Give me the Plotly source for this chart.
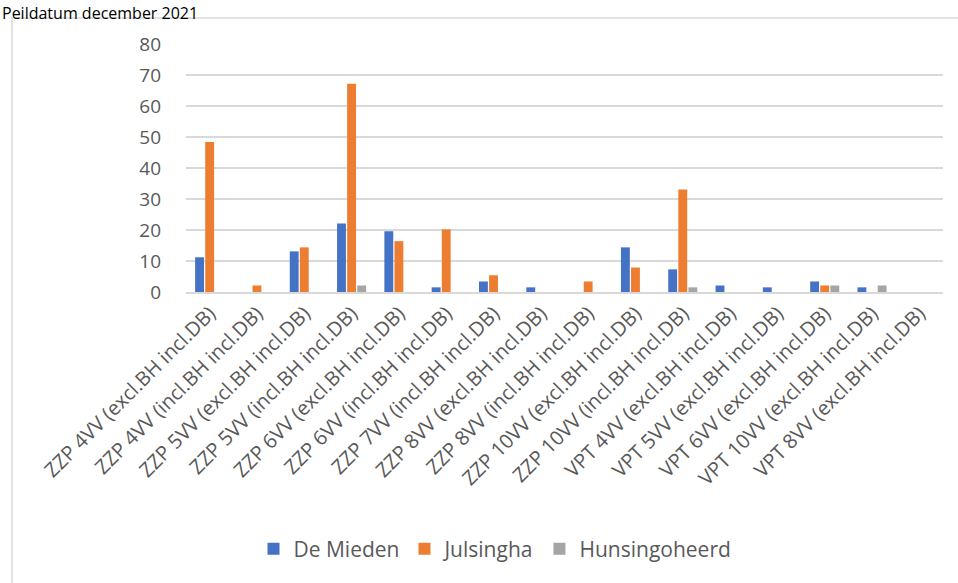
import plotly.graph_objects as go

categories = [
    "ZZP 4VV (excl.BH incl.DB)", "ZZP 4VV (incl.BH incl.DB)",
    "ZZP 5VV (excl.BH incl.DB)", "ZZP 5VV (incl.BH incl.DB)",
    "ZZP 6VV (excl.BH incl.DB)", "ZZP 6VV (incl.BH incl.DB)",
    "ZZP 7VV (incl.BH incl.DB)", "ZZP 8VV (excl.BH incl.DB)",
    "ZZP 8VV (incl.BH incl.DB)", "ZZP 10VV (excl.BH incl.DB)",
    "ZZP 10VV (incl.BH incl.DB)", "VPT 4VV (excl.BH incl.DB)",
    "VPT 5VV (excl.BH incl.DB)", "VPT 6VV (excl.BH incl.DB)",
    "VPT 10VV (excl.BH incl.DB)", "VPT 8VV (excl.BH incl.DB)",
]
de_mieden = [11.2, 0, 13.1, 22.1, 19.6, 1.5, 3.4, 1.5, 0, 14.4, 7.3, 2.1, 1.5, 3.4, 1.5, 0]
julsingha = [48.4, 2.1, 14.4, 67.2, 16.4, 20.2, 5.4, 0, 3.4, 7.9, 33.1, 0, 0, 2.1, 0, 0]
hunsingoheerd = [0, 0, 0, 2.1, 0, 0, 0, 0, 0, 0, 1.5, 0, 0, 2.1, 2.1, 0]
y_ticks = [0, 10, 20, 30, 40, 50, 60, 70, 80]

series = [
    ("De Mieden", de_mieden, "#4472C4"),
    ("Julsingha", julsingha, "#ED7D31"),
    ("Hunsingoheerd", hunsingoheerd, "#A5A5A5"),
]

FONT = "Open Sans"
GREY = "#595959"

fig = go.Figure()
for name, vals, col in series:
    fig.add_trace(go.Bar(x=categories, y=vals, name=name, marker_color=col,
                         marker_line_width=0))

W, H = 958, 583
L, R, T, B = 186, 15, 44, 291
pw, ph = W - L - R, H - T - B

def px_x(x):
    return (x - L) / pw

def px_y(y):
    return (H - B - y) / ph

fig.update_layout(
    width=W, height=H,
    margin=dict(l=L, r=R, t=T, b=B, pad=0),
    paper_bgcolor="white", plot_bgcolor="white",
    barmode="group", bargap=0.36, bargroupgap=0.12,
    font=dict(family=FONT, color=GREY, size=17),
    legend=dict(orientation="h", x=px_x(495), xanchor="center", y=px_y(549), yanchor="middle",
                font=dict(family=FONT, size=21, color=GREY), itemwidth=30,
                traceorder="normal"),
    showlegend=True,
)
fig.add_annotation(text="Peildatum december 2021", xref="paper", yref="paper",
                   x=px_x(1), xanchor="left", y=px_y(0.5), yanchor="top",
                   showarrow=False, borderpad=0,
                   font=dict(family=FONT, size=16, color="#000000"))
fig.update_xaxes(tickangle=-45, showgrid=False, showline=True, linecolor="#d9d9d9",
                 linewidth=1.5, ticks="", tickfont=dict(family=FONT, size=20, color=GREY),
                 zeroline=False)
fig.update_yaxes(range=[0, 80], tickvals=y_ticks, showgrid=True, gridcolor="#d9d9d9",
                 gridwidth=1.5, zeroline=False, showline=False, ticks="",
                 tickfont=dict(family=FONT, size=19, color=GREY), ticklabelstandoff=24)

fig.add_shape(type="rect", xref="paper", yref="paper",
              x0=px_x(12), x1=px_x(975), y0=px_y(600), y1=px_y(18),
              line=dict(color="#d9d9d9", width=1.5), fillcolor="rgba(0,0,0,0)", layer="below")

fig.write_html("out.html")
